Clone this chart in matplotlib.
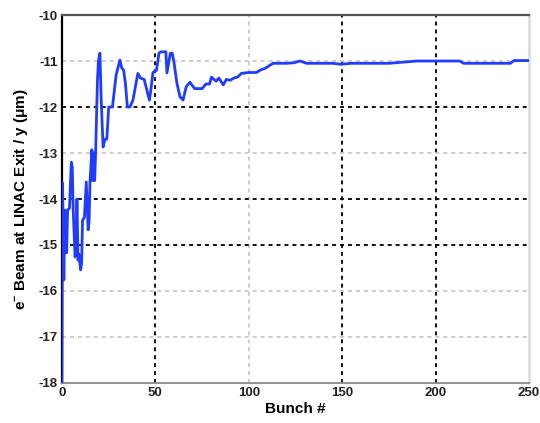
import matplotlib
matplotlib.use("Agg")
import matplotlib.pyplot as plt

plt.rcParams["axes.unicode_minus"] = False
plt.rcParams["mathtext.fontset"] = "custom"
plt.rcParams["mathtext.rm"] = "Liberation Sans:bold"
plt.rcParams["mathtext.it"] = "Liberation Sans:bold"
plt.rcParams["mathtext.bf"] = "Liberation Sans:bold"
plt.rcParams["mathtext.default"] = "regular"

bunch = [0, 0.3, 1, 1.5, 2, 2.5, 3, 4, 5, 5.5, 6, 7, 7.5, 8, 8.6, 9, 10, 10.5, 11, 12, 13, 14, 14.5, 15, 16,
         16.5, 17, 17.5, 18, 18.5, 19, 19.5, 20.3, 21, 22, 23, 24, 25, 27, 28, 29, 31, 32, 33, 34, 35, 36.4,
         38, 40.6, 42, 44, 46.8, 47.5, 48.7, 50.6, 51.9, 53, 55.6, 56.2, 58, 59, 60, 61.5, 63.2, 64.8, 66.5,
         68.5, 71, 75, 77, 79, 80, 82.5, 84, 86.3, 88, 90, 92, 94, 96, 100, 104, 106, 108.7, 111, 113, 120,
         124, 127.4, 131, 145, 149, 155, 160, 175, 190, 213, 215, 240, 242, 250]
pos_um = [-18.0, -13.65, -15.76, -14.24, -14.3, -15.17, -14.24, -14.2, -13.2, -13.3, -14.24, -15.26, -15.1,
          -14.0, -15.33, -15.2, -15.54, -15.4, -14.46, -14.4, -13.63, -14.67, -14.5, -13.63, -12.93,
          -13.6, -13.0, -13.6, -13.0, -12.2, -11.41, -11.0, -10.83, -11.85, -12.87, -12.7, -12.7, -12.0,
          -12.0, -11.65, -11.3, -10.98, -11.15, -11.2, -11.5, -12.0, -12.0, -11.85, -11.27, -11.37, -11.4,
          -11.85, -11.65, -11.25, -11.2, -10.83, -10.8, -10.8, -11.26, -10.83, -10.83, -11.04, -11.48,
          -11.78, -11.85, -11.56, -11.46, -11.6, -11.6, -11.5, -11.5, -11.35, -11.44, -11.37, -11.52,
          -11.4, -11.42, -11.37, -11.35, -11.27, -11.25, -11.25, -11.2, -11.16, -11.1, -11.05, -11.05,
          -11.04, -11.0, -11.05, -11.05, -11.07, -11.05, -11.05, -11.05, -11.0, -11.0, -11.05, -11.05,
          -10.99, -10.99]

xticks = [0, 50, 100, 150, 200, 250]
yticks = [-18, -17, -16, -15, -14, -13, -12, -11, -10]
dark_x = [50, 150, 200]
light_x = [100]
dark_y = [-12, -14, -15]
light_y = [-11, -13, -16, -17]

fig = plt.figure(figsize=(5.4, 4.23), dpi=100)
ax = fig.add_axes([0.1148, 0.0946, 0.9796 - 0.1148, 0.9645 - 0.0946])

dash = (0, (2.2, 2.2))
for xv in dark_x:
    ax.axvline(xv, color="black", lw=1.3, ls=dash, zorder=1)
for xv in light_x:
    ax.axvline(xv, color="#c8c8c8", lw=1.3, ls=dash, zorder=1)
for yv in dark_y:
    ax.axhline(yv, color="black", lw=1.3, ls=dash, zorder=1)
for yv in light_y:
    ax.axhline(yv, color="#c8c8c8", lw=1.3, ls=dash, zorder=1)

ax.plot(bunch, pos_um, color="#1f3cff", lw=2.0, zorder=3)

ax.set_xlim(0, 250)
ax.set_ylim(-18, -10)
ax.set_xticks(xticks)
ax.set_yticks(yticks)
ax.tick_params(length=0, pad=3)
for lab in ax.get_xticklabels() + ax.get_yticklabels():
    lab.set_fontfamily("Liberation Sans")
    lab.set_fontsize(9.5)
    lab.set_fontweight("bold")
    lab.set_color("#222222")

ax.spines["left"].set_color("black")
ax.spines["left"].set_linewidth(1.6)
ax.spines["top"].set_color("#555555")
ax.spines["top"].set_linewidth(1.6)
ax.spines["bottom"].set_color("#888888")
ax.spines["bottom"].set_linewidth(1.3)
ax.spines["right"].set_color("#dddddd")
ax.spines["right"].set_linewidth(2.0)

ax.set_xlabel("Bunch #", fontfamily="Liberation Sans", fontsize=11, fontweight="bold", labelpad=2)
ax.set_ylabel("e$^{-}$ Beam at LINAC Exit / y (μm)", fontfamily="Liberation Sans", fontsize=11,
              fontweight="bold", labelpad=6)

fig.savefig("out.png", dpi=100)
